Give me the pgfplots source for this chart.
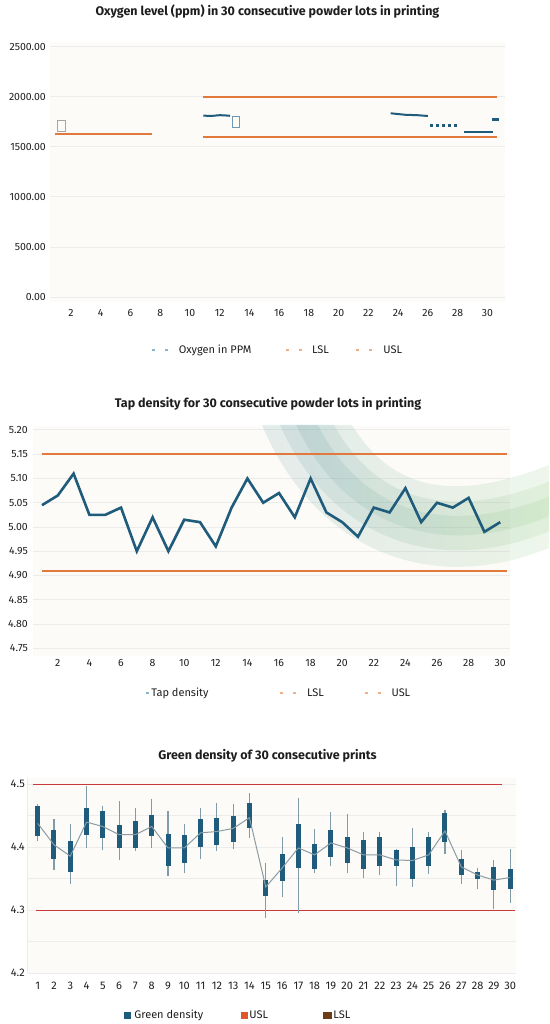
\documentclass[border=0pt]{standalone}
\usepackage{fontspec}
\setmainfont{Fira Sans}
\usepackage{pgfplots}
\usepackage{pgfplotstable}
\pgfplotsset{compat=1.18}

\definecolor{oxblue}{HTML}{1F5B7A}
\definecolor{orng}{HTML}{E2793C}
\definecolor{gridc}{HTML}{ECECEC}
\definecolor{bgc}{HTML}{FCFBF8}
\definecolor{legblue}{HTML}{8DB4CF}
\definecolor{legorng}{HTML}{F2B184}
\definecolor{redl}{HTML}{C8393B}
\definecolor{wisk}{HTML}{7F9CA8}
\definecolor{meanc}{HTML}{8C9BA3}
\definecolor{usl3}{HTML}{E0582A}
\definecolor{lsl3}{HTML}{6A3C17}
\definecolor{teal1}{HTML}{5E96A2}
\definecolor{green1}{HTML}{8CC67A}
\definecolor{txt}{HTML}{1E1E1E}

\pgfplotstableread{
lot mean bl bh wl wh
1 4.438 4.418 4.465 4.410 4.468
2 4.404 4.382 4.427 4.364 4.445
3 4.386 4.361 4.410 4.341 4.437
4 4.440 4.420 4.463 4.399 4.497
5 4.433 4.415 4.458 4.395 4.465
6 4.420 4.399 4.435 4.380 4.474
7 4.420 4.399 4.441 4.394 4.463
8 4.433 4.418 4.451 4.399 4.477
9 4.399 4.371 4.421 4.354 4.458
10 4.399 4.375 4.420 4.359 4.437
11 4.423 4.400 4.445 4.382 4.462
12 4.425 4.403 4.446 4.394 4.470
13 4.430 4.409 4.450 4.398 4.469
14 4.447 4.430 4.470 4.415 4.487
15 4.337 4.323 4.348 4.288 4.375
16 4.367 4.346 4.390 4.321 4.416
17 4.399 4.367 4.437 4.296 4.479
18 4.388 4.366 4.406 4.359 4.429
19 4.407 4.385 4.428 4.370 4.456
20 4.399 4.375 4.416 4.360 4.453
21 4.388 4.365 4.411 4.351 4.424
22 4.388 4.370 4.416 4.356 4.424
23 4.380 4.370 4.395 4.339 4.398
24 4.379 4.350 4.400 4.337 4.430
25 4.388 4.371 4.416 4.358 4.424
26 4.426 4.408 4.455 4.390 4.460
27 4.369 4.356 4.381 4.342 4.395
28 4.356 4.349 4.361 4.334 4.367
29 4.348 4.333 4.369 4.302 4.380
30 4.352 4.334 4.366 4.312 4.398
}\greendata

\pgfplotstableread{
lot tap
1 5.045
2 5.065
3 5.110
4 5.025
5 5.025
6 5.040
7 4.950
8 5.020
9 4.950
10 5.015
11 5.010
12 4.960
13 5.040
14 5.100
15 5.050
16 5.070
17 5.020
18 5.100
19 5.030
20 5.010
21 4.980
22 5.040
23 5.030
24 5.080
25 5.010
26 5.050
27 5.040
28 5.060
29 4.990
30 5.010
}\tapdata

\pgfplotsset{
  mystyle/.style={
    scale only axis,
    axis line style={draw=none},
    major tick length=0pt, minor tick length=0pt,
    tick style={draw=none},
    ymajorgrids,
    grid style={gridc, line width=1pt},
    axis background/.style={fill=bgc},
    /pgf/number format/assume math mode=true,
    tick label style={font=\fontsize{10.5}{12}\selectfont, text=txt},
    clip=false,
    title style={font=\fontsize{12.5}{14}\selectfont\bfseries, text=txt, anchor=base},
    legend style={draw=none, fill=none, inner sep=0pt, font=\fontsize{11}{13}\selectfont, text=txt, legend columns=3, /tikz/every even column/.append style={column sep=0pt}},
  },
  dashleg/.style 2 args={legend image code/.code={\draw[#1, line width=1.2pt, dash pattern=on 3pt off 10pt] (0pt,0pt) -- (16pt,0pt); \path[draw=none] (0pt,0pt) -- (#2,0pt);}},
  sqleg/.style n args={3}{legend image code/.code={\fill[#1] (0pt,-3pt) rectangle (#3,3pt); \path[draw=none] (0pt,0pt) -- (#2,0pt);}},
}

\begin{document}
\begin{tikzpicture}
\path[use as bounding box] (0pt,0pt) rectangle (549pt,-1024pt);

% ---------------- Chart 1 ----------------
\begin{axis}[mystyle,
  at={(50pt,-42pt)}, anchor=north west,
  width=455pt, height=260pt,
  xmin=0.59, xmax=31.19, ymin=-50, ymax=2550,
  ytick={0,500,1000,1500,2000,2500},
  xtick={2,4,...,30},
  yticklabel style={/pgf/number format/fixed, /pgf/number format/fixed zerofill, /pgf/number format/precision=2, /pgf/number format/1000 sep={}, inner sep=0pt, xshift=-4pt},
  xticklabel style={inner sep=0pt, yshift=-7pt},
  title={Oxygen level (ppm) in 30 consecutive powder lots in printing},
  title style={at={(axis description cs:0.478,1)}, yshift=20pt},
  legend style={at={(axis description cs:0.2220,-0.1846)}, anchor=west},
]
\addlegendimage{dashleg={legblue}{25pt}}
\addlegendentry{Oxygen in PPM\hspace*{32pt}}
\addlegendimage{dashleg={legorng}{24pt}}
\addlegendentry{LSL\hspace*{25pt}}
\addlegendimage{dashleg={legorng}{25pt}}
\addlegendentry{USL}

\addplot[draw=orng, line width=2pt, forget plot] coordinates {(0.93,1633) (7.45,1633)};
\addplot[draw=orng, line width=2.5pt, forget plot] coordinates {(10.9,1600) (30.67,1600)};
\addplot[draw=orng, line width=2.5pt, forget plot] coordinates {(10.9,2000) (30.67,2000)};

\addplot[draw=oxblue, line width=2pt, smooth, forget plot] coordinates {(10.9,1815) (11.4,1810) (12.0,1818) (12.7,1812)};
\addplot[draw=oxblue, line width=2pt, forget plot] coordinates {(23.5,1837) (24.5,1822) (25.3,1818) (26.0,1810)};
\addplot[draw=oxblue, line width=2.5pt, dash pattern=on 3pt off 3pt, forget plot] coordinates {(26.15,1713) (27.95,1713)};
\addplot[draw=oxblue, line width=1.8pt, forget plot] coordinates {(28.4,1653) (30.4,1653)};
\addplot[draw=oxblue, line width=3pt, forget plot] coordinates {(30.3,1770) (30.8,1770)};

\node[draw=gray!70, line width=0.9pt, minimum width=7.5pt, minimum height=11pt, inner sep=0pt] at (axis cs:1.36,1715) {};
\node[draw=legblue!70!oxblue, line width=0.9pt, minimum width=7.5pt, minimum height=11pt, inner sep=0pt] at (axis cs:13.1,1755) {};
\end{axis}

% ---------------- Chart 2 ----------------
\begin{axis}[mystyle,
  at={(33pt,-426pt)}, anchor=north west,
  width=477pt, height=230pt,
  xmin=0.43, xmax=30.62, ymin=4.7341, ymax=5.2082,
  ytick={4.75,4.80,4.85,4.90,4.95,5.00,5.05,5.10,5.15,5.20},
  xtick={2,4,...,30},
  yticklabel style={/pgf/number format/fixed, /pgf/number format/fixed zerofill, /pgf/number format/precision=2, inner sep=0pt, xshift=-5pt},
  xticklabel style={inner sep=0pt, yshift=-3pt},
  title={Tap density for 30 consecutive powder lots in printing},
  title style={at={(axis description cs:0.4927,1)}, yshift=13pt},
  legend style={at={(axis description cs:0.2348,-0.1609)}, anchor=west},
]
\addlegendimage{legend image code/.code={\draw[legblue, line width=1.2pt] (0pt,0pt) -- (3pt,0pt); \path[draw=none] (0pt,0pt) -- (3.5pt,0pt);}}
\addlegendentry{Tap density\hspace*{69pt}}
\addlegendimage{dashleg={legorng}{25pt}}
\addlegendentry{LSL\hspace*{38pt}}
\addlegendimage{dashleg={legorng}{25pt}}
\addlegendentry{USL}

% decorative swoosh
\shade[left color=teal1, right color=green1, fill opacity=0.15]
  (14.924,5.2103) .. controls (17.962,4.9733) and (24.924,4.8496) .. (33.089,4.9568)
  -- (33.089,5.1279) .. controls (27.456,5.0557) and (23.342,5.066) .. (20.620,5.2103) -- cycle;
\shade[left color=teal1, right color=green1, fill opacity=0.15]
  (16.063,5.2103) .. controls (19.038,4.9918) and (25.430,4.8909) .. (33.089,4.991)
  -- (33.089,5.0937) .. controls (26.949,5.0145) and (22.266,5.0475) .. (19.481,5.2103) -- cycle;
\shade[left color=teal1, right color=green1, fill opacity=0.15]
  (17.089,5.2103) .. controls (20.006,5.0085) and (25.886,4.9279) .. (33.089,5.0217)
  -- (33.089,5.0629) .. controls (26.494,4.9774) and (21.297,5.0308) .. (18.456,5.2103) -- cycle;

\addplot[draw=orng, line width=2pt, forget plot] coordinates {(1,4.91) (30.45,4.91)};
\addplot[draw=orng, line width=2pt, forget plot] coordinates {(1,5.15) (30.45,5.15)};
\addplot[draw=oxblue, line width=2.6pt, line join=miter, forget plot] table[x=lot, y=tap] {\tapdata};
\end{axis}

% ---------------- Chart 3 ----------------
\begin{axis}[mystyle,
  at={(28pt,-778pt)}, anchor=north west,
  width=488pt, height=195.3pt,
  xmin=0.405, xmax=30.36, ymin=4.2, ymax=4.51,
  ytick={4.2,4.3,4.4,4.5},
  minor ytick={4.25,4.35,4.45},
  yminorgrids,
  minor grid style={gridc, line width=1pt},
  xtick={1,...,30},
  tick label style={font=\fontsize{11}{13}\selectfont},
  yticklabel style={/pgf/number format/fixed, /pgf/number format/precision=1, inner sep=0pt, xshift=-3pt},
  xticklabel style={inner sep=0pt, yshift=-9pt},
  title={Green density of 30 consecutive prints},
  title style={at={(axis description cs:0.4908,1)}, yshift=13pt},
  legend style={at={(axis description cs:0.1967,-0.2135)}, anchor=west},
]
\addlegendimage{sqleg={oxblue}{8pt}{6pt}}
\addlegendentry{Green density\hspace*{36pt}}
\addlegendimage{sqleg={usl3}{6pt}{5.5pt}}
\addlegendentry{USL\hspace*{53pt}}
\addlegendimage{sqleg={lsl3}{8pt}{8pt}}
\addlegendentry{LSL}

\draw[gridc, line width=1pt] (rel axis cs:0,0) -- (rel axis cs:0,1);

\addplot[draw=redl, line width=1.5pt, forget plot] coordinates {(0.7,4.5) (29.5,4.5)};
\addplot[draw=redl, line width=1.5pt, forget plot] coordinates {(0.9,4.3) (30.3,4.3)};

\addplot[draw=none, mark=none, forget plot,
  error bars/.cd, y dir=both, y explicit, error mark=none,
  error bar style={draw=wisk, line width=1.1pt}]
  table[x=lot, y=mean, y error plus expr=\thisrow{wh}-\thisrow{mean}, y error minus expr=\thisrow{mean}-\thisrow{wl}] {\greendata};
\addplot[draw=none, mark=none, forget plot,
  error bars/.cd, y dir=both, y explicit, error mark=none,
  error bar style={draw=oxblue, line width=5pt}]
  table[x=lot, y=mean, y error plus expr=\thisrow{bh}-\thisrow{mean}, y error minus expr=\thisrow{mean}-\thisrow{bl}] {\greendata};
\addplot[draw=meanc, line width=1pt, mark=none, forget plot] table[x=lot, y=mean] {\greendata};
\end{axis}
\end{tikzpicture}
\end{document}
